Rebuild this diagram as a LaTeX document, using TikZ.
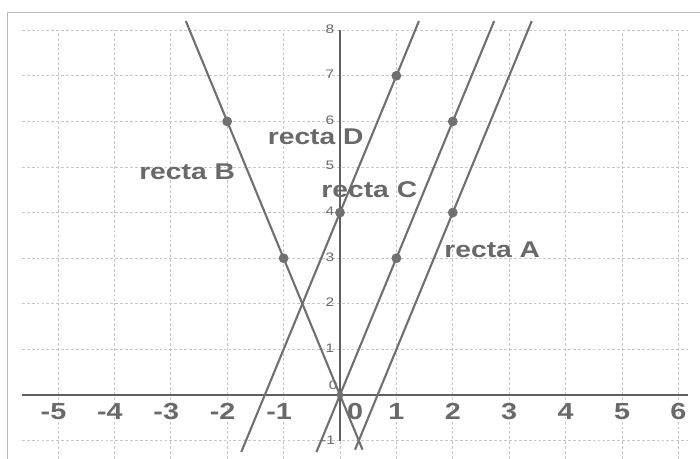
\documentclass[tikz,border=0pt]{standalone}
\usepackage{fontspec}
\usetikzlibrary{arrows.meta,positioning}
\newfontfamily\geofont[FakeStretch=1.24]{Liberation Sans}
\definecolor{GridGray}{RGB}{200,200,200}
\definecolor{AxisGray}{RGB}{95,95,95}
\definecolor{LineGray}{RGB}{112,112,112}
\definecolor{TextGray}{RGB}{105,105,105}

\begin{document}
\begin{tikzpicture}[x=1.41cm, y=1.14cm,
    gridline/.style={GridGray, line width=0.5pt, dash pattern=on 2pt off 1.5pt},
    axis/.style={AxisGray, line width=2pt},
    recta/.style={LineGray, line width=1.5pt},
    pt/.style={circle, fill=LineGray, inner sep=0pt, minimum size=7pt},
    rlabel/.style={font=\geofont\bfseries\fontsize{16.2}{18}\selectfont, text=TextGray, inner sep=0pt},
    xlab/.style={font=\geofont\bfseries\fontsize{16.5}{18}\selectfont, text=TextGray, inner sep=0pt},
    ylab/.style={font=\geofont\fontsize{8.8}{10}\selectfont, text=TextGray, inner sep=0pt}
  ]
  \useasboundingbox (-6.028,-1.382) rectangle (6.383,8.662);
  % frame and grid
  \draw[gray!55, line width=0.6pt] (-5.9,-1.6) -- (-5.9,8.4) -- (6.6,8.4);
  \foreach \x in {-5,...,6}
    \draw[gridline] (\x,-1.4) -- (\x,8);
  \foreach \y in {-1,...,8}
    \draw[gridline] (-5.64,\y) -- (6.17,\y);

  % axes
  \draw[axis] (-5.64,0) -- (6.17,0);
  \draw[axis, line width=1.6pt] (0,-1) -- (0,8);

  % tick labels
  \foreach \x in {-5,...,-1}
    \node[xlab] (xl\x) at (\x-0.08,-0.37) {\x};
  \foreach \x in {1,...,6}
    \node[xlab] (xl\x) at (\x,-0.37) {\x};
  \node[xlab] (xl0) at (0.27,-0.37) {0};
  \foreach \y in {1,...,8}
    \node[ylab] (yl\y) at (-0.18,\y+0.03) {\y};
  \node[ylab] (yl0) at (-0.12,0.22) {0};
  \node[ylab] (ylm) at (-0.21,-0.99) {-1};

  % end points of the lines
  \coordinate (bTop) at (-2.733,8.2);
  \coordinate (bBot) at (0.4,-1.2);
  \coordinate (dTop) at (1.4,8.2);
  \coordinate (dBot) at (-1.75,-1.25);
  \coordinate (cTop) at (2.733,8.2);
  \coordinate (cBot) at (-0.417,-1.25);
  \coordinate (aTop) at (3.4,8.2);
  \coordinate (aBot) at (0.267,-1.2);

  \draw[recta] (bTop) -- (bBot);
  \draw[recta] (dTop) -- (dBot);
  \draw[recta] (cTop) -- (cBot);
  \draw[recta] (aTop) -- (aBot);

  % points
  \node[pt] (b1) at (-2,6) {};
  \node[pt] (b2) at (-1,3) {};
  \node[pt] (d1) at (0,4) {};
  \node[pt] (d2) at (1,7) {};
  \node[pt] (c1) at (1,3) {};
  \node[pt] (c2) at (2,6) {};
  \node[pt] (a1) at (2,4) {};
  \node[pt, minimum size=5pt] (o) at (0,0) {};

  % names of the lines
  \node[rlabel] (lblB) at (-2.71,4.89) {recta B};
  \node[rlabel] (lblD) at (-0.43,5.66) {recta D};
  \node[rlabel] (lblC) at (0.52,4.5) {recta C};
  \node[rlabel] (lblA) at (2.70,3.19) {recta A};
\end{tikzpicture}
\end{document}
